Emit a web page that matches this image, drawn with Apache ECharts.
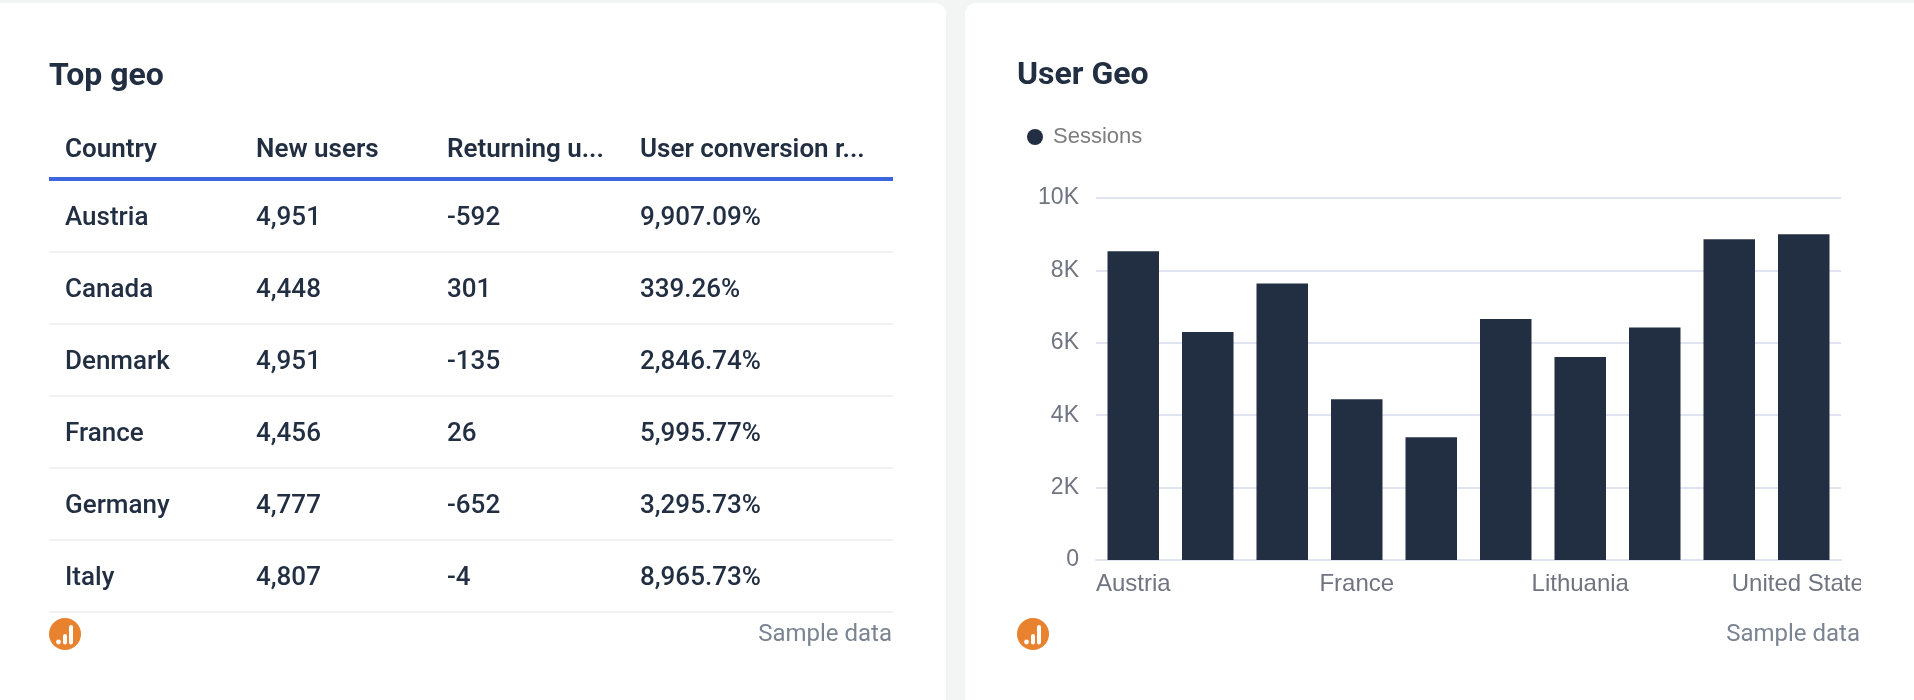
<!DOCTYPE html>
<html><head><meta charset="utf-8">
<style>
html,body{margin:0;padding:0;background:#f3f5f5;width:1914px;height:700px;overflow:hidden}
#page{position:absolute;left:0;top:0;width:1914px;height:700px}
#bars{position:absolute;left:965px;top:0;width:896px;height:700px}
</style>
<script src="https://cdn.jsdelivr.net/npm/echarts@6/dist/echarts.min.js"></script>
</head><body>
<div id="page"></div><div id="bars"></div>
<script>
const tableTitle = 'Top geo';
const chartTitle = 'User Geo';
const footerText = 'Sample data';
const tableHeaders = ['Country', 'New users', 'Returning u...', 'User conversion r...'];
const tableCountries = ['Austria', 'Canada', 'Denmark', 'France', 'Germany', 'Italy'];
const tableNewUsers = ['4,951', '4,448', '4,951', '4,456', '4,777', '4,807'];
const tableReturning = ['-592', '301', '-135', '26', '-652', '-4'];
const tableConversion = ['9,907.09%', '339.26%', '2,846.74%', '5,995.77%', '3,295.73%', '8,965.73%'];
const barCategories = ['Austria', 'Canada', 'Denmark', 'France', 'Germany', 'Italy', 'Lithuania', 'Netherlands', 'Spain', 'United States'];
const sessions = [8530, 6300, 7640, 4440, 3390, 6660, 5610, 6420, 8860, 9000];
const seriesName = 'Sessions';

const INK = '#222f42', MUTED = '#7a8492', RULE = '#f1f2f4';
const HEAD = '"Roboto", sans-serif', BODY = '"Liberation Sans", Arial, sans-serif';
const colX = [65, 256, 447, 640];
const rowY = i => 218.5 + i * 72;

function txt(x, y, s, size, weight, fill, align) {
  return {type: 'text', x, y, silent: true, style: {
    text: s, fontFamily: HEAD, fontSize: size, fontWeight: weight, fill,
    align: align || 'left', verticalAlign: 'middle'}};
}
function logo(cx, cy) {
  return {type: 'group', x: cx, y: cy, silent: true, children: [
    {type: 'circle', shape: {cx: 0, cy: 0, r: 16}, style: {fill: '#e8822e'}},
    {type: 'circle', shape: {cx: -6.5, cy: 8, r: 2.4}, style: {fill: '#fff'}},
    {type: 'rect', shape: {x: -2, y: 0, width: 4, height: 10.4, r: 2}, style: {fill: '#fff'}},
    {type: 'rect', shape: {x: 4, y: -9, width: 4, height: 19.4, r: 2}, style: {fill: '#fff'}}
  ]};
}
const els = [
  {type: 'rect', shape: {x: -20, y: 3, width: 966, height: 720, r: 11}, style: {fill: '#fff'}, silent: true},
  {type: 'rect', shape: {x: 965, y: 3, width: 970, height: 720, r: 11}, style: {fill: '#fff'}, silent: true},
  txt(49, 77, tableTitle, 32, 700, INK)
];
tableHeaders.forEach((h, c) => els.push(txt(colX[c], 150.5, h, 26, 600, INK)));
els.push({type: 'rect', silent: true, shape: {x: 49, y: 177, width: 844, height: 4}, style: {fill: '#3b66e0'}});
tableCountries.forEach((name, i) => {
  const cells = [name, tableNewUsers[i], tableReturning[i], tableConversion[i]];
  cells.forEach((v, c) => els.push(txt(colX[c], rowY(i), v, 26, 500, INK)));
  els.push({type: 'rect', silent: true, shape: {x: 49, y: 251, width: 844, height: 2}, y: i * 72, style: {fill: RULE}});
});
els.push(logo(65, 634), logo(1033, 634));
els.push(txt(892, 635, footerText, 24, 400, MUTED, 'right'));
els.push(txt(1860, 635, footerText, 24, 400, MUTED, 'right'));

const page = echarts.init(document.getElementById('page'));
page.setOption({animation: false, graphic: {elements: els}});

const bars = echarts.init(document.getElementById('bars'));
bars.setOption({
  animation: false,
  backgroundColor: 'transparent',
  title: {text: chartTitle, left: 52, top: 60, padding: 0,
    textStyle: {fontFamily: HEAD, fontSize: 32, fontWeight: 700, color: INK}},
  legend: {left: 62, top: 126, padding: 0, icon: 'circle', itemWidth: 16, itemHeight: 16, itemGap: 0,
    textStyle: {fontFamily: BODY, fontSize: 22, color: '#7d7d7d', padding: [0, 0, 0, 5]},
    data: [seriesName]},
  grid: {left: 131, top: 198, width: 745, bottom: 140, outerBoundsMode: 'none'},
  xAxis: {type: 'category', data: barCategories,
    axisLine: {lineStyle: {color: '#e0e4f0', width: 2}},
    axisTick: {show: false},
    axisLabel: {interval: 2, margin: 12, hideOverlap: false, fontFamily: BODY, fontSize: 24, color: '#6f7480'}},
  yAxis: {type: 'value', min: 0, max: 10000, interval: 2000,
    axisLine: {show: false}, axisTick: {show: false},
    splitLine: {lineStyle: {color: '#e0e4f0', width: 2}},
    axisLabel: {margin: 17, fontFamily: BODY, fontSize: 23, color: '#6f7480',
      formatter: v => v === 0 ? '0' : (v / 1000) + 'K'}},
  series: [{name: seriesName, type: 'bar', data: sessions, barWidth: 51.5,
    itemStyle: {color: INK}}]
});
</script>
</body></html>
